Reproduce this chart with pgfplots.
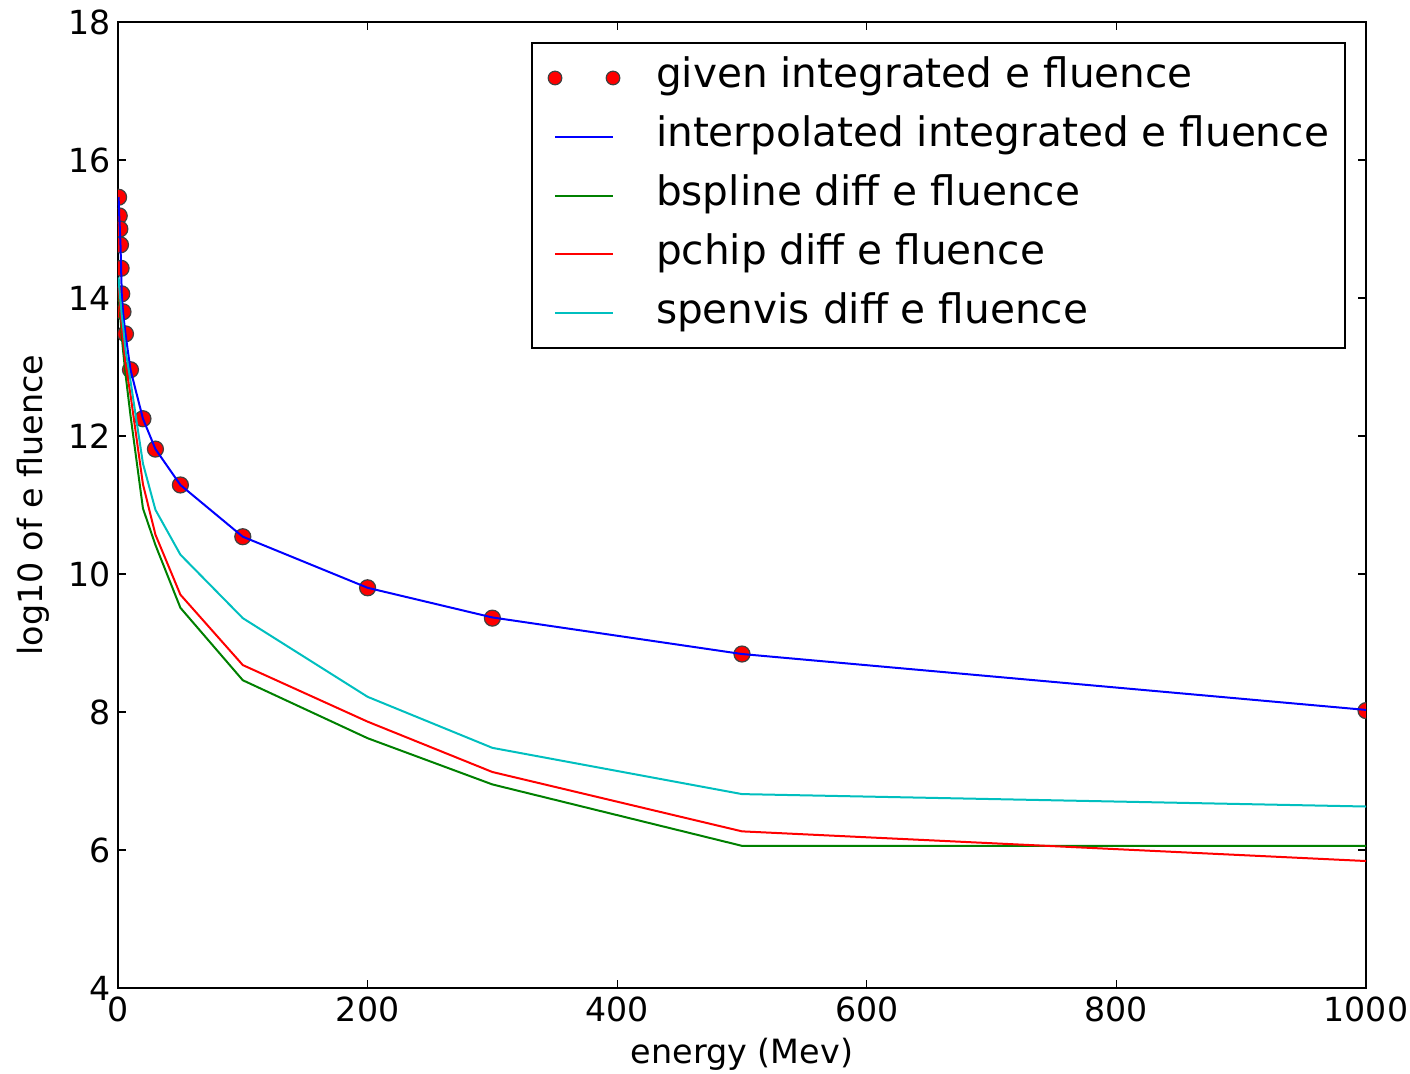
\documentclass[border=0pt]{standalone}
\usepackage{fontspec}
\setmainfont{DejaVu Sans}
\usepackage{pgfplots}
\pgfplotsset{compat=1.18}
\definecolor{mplgreen}{rgb}{0,0.5,0}
\definecolor{mplcyan}{rgb}{0,0.75,0.75}
\pgfplotsset{
  myline legend/.style={legend image code/.code={\path (-3pt,0pt) (50pt,0pt); \draw[##1] (0pt,0pt) -- (29pt,0pt);}},
  mymark legend/.style={legend image code/.code={\path (-3pt,0pt) (50pt,0pt); \draw[##1, mark size=3.4pt] plot coordinates {(0pt,0pt) (29pt,0pt)};}},
}
\begin{document}
\begin{tikzpicture}
\begin{axis}[
  scale only axis, width=624pt, height=483pt,
  xmin=0, xmax=1000, ymin=4, ymax=18,
  xtick={0,200,...,1000}, ytick={4,6,...,18},
  tick align=inside, major tick length=4pt,
  every tick/.style={black, line width=0.6pt},
  axis line style={line width=1pt},
  /pgf/number format/assume math mode=true,
  /pgf/number format/1000 sep={},
  ticklabel style={font=\fontsize{16.6}{19}\selectfont},
  xticklabel style={yshift=-1pt},
  label style={font=\fontsize{16.7}{19}\selectfont},
  xlabel={energy (Mev)}, ylabel={log10 of e fluence},
  xlabel style={yshift=-1pt}, ylabel style={yshift=3pt},
  clip marker paths=true,
  legend style={at={(rel axis cs:1,1)}, anchor=north east, xshift=-10pt, yshift=-10pt,
    font=\fontsize{20.3}{23}\selectfont, draw=black, line width=1pt,
    inner xsep=8pt, inner ysep=8.5pt, row sep=11.4pt,
    nodes={inner sep=0pt, text height=14pt, text depth=4pt}},
  legend cell align=left,
]
\addplot[only marks, mark=*, mark size=4pt, mark options={fill=red, draw=black!75, line width=0.6pt}, mymark legend]
coordinates {
(0.5,15.46) (1,15.19) (1.5,15.00) (2,14.77) (2.5,14.43) (3,14.06) (4,13.80) (6,13.48)
(10,12.96) (20,12.25) (30,11.81) (50,11.29) (100,10.54) (200,9.80) (300,9.36) (500,8.84) (1000,8.02)
};
\addlegendentry{given integrated e fluence}
\addplot[blue, line width=1pt, no marks, myline legend]
coordinates {
(0.5,15.46) (1,15.19) (1.5,15.00) (2,14.77) (2.5,14.43) (3,14.06) (4,13.80) (6,13.48)
(10,12.96) (20,12.25) (30,11.81) (50,11.29) (100,10.54) (200,9.80) (300,9.37) (500,8.84) (1000,8.03)
};
\addlegendentry{interpolated integrated e fluence}
\addplot[mplgreen, line width=1pt, no marks, myline legend]
coordinates {
(0.5,14.1) (1,13.95) (2,13.7) (3,13.45) (4,13.25) (6,12.9) (10,12.3) (20,10.95) (30,10.42)
(50,9.51) (100,8.46) (200,7.62) (300,6.95) (500,6.06) (1000,6.06)
};
\addlegendentry{bspline diff e fluence}
\addplot[red, line width=1pt, no marks, myline legend]
coordinates {
(0.5,14.2) (1,14.05) (2,13.8) (3,13.6) (4,13.4) (6,13.05) (10,12.6) (20,11.3) (30,10.57)
(50,9.70) (100,8.68) (200,7.86) (300,7.13) (500,6.27) (1000,5.84)
};
\addlegendentry{pchip diff e fluence}
\addplot[mplcyan, line width=1pt, no marks, myline legend]
coordinates {
(0.5,14.3) (1,14.15) (2,13.95) (3,13.75) (4,13.6) (6,13.25) (10,12.8) (20,11.6) (30,10.93)
(50,10.28) (100,9.36) (200,8.22) (300,7.48) (500,6.81) (1000,6.63)
};
\addlegendentry{spenvis diff e fluence}
\end{axis}
\pgfresetboundingbox
\path (current axis.south west) ++(-59pt,-43pt) rectangle ++(705pt,537pt);
\end{tikzpicture}
\end{document}
